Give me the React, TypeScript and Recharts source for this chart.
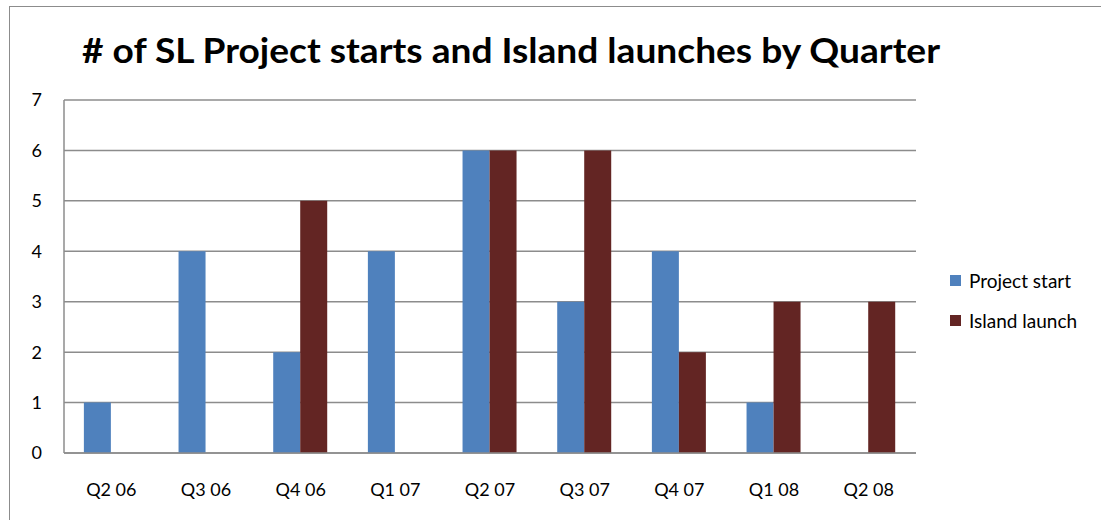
import { Bar, BarChart, CartesianGrid, Legend, XAxis, YAxis } from 'recharts';

const quarters = ['Q2 06', 'Q3 06', 'Q4 06', 'Q1 07', 'Q2 07', 'Q3 07', 'Q4 07', 'Q1 08', 'Q2 08'];
const projectStart = [1, 4, 2, 4, 6, 3, 4, 1, 0];
const islandLaunch = [0, 0, 5, 0, 6, 6, 2, 3, 3];
const yTicks = [0, 1, 2, 3, 4, 5, 6, 7];

const BLUE = '#4F81BD';
const RED = '#632523';
const FONT = 'Lato, "Open Sans", sans-serif';

// legend sits off to the right, like Excel's
const renderLegend = () => (
  <div style={{ fontFamily: FONT, fontSize: '19px', color: '#000', width: 160 }}>
    {[
      { label: 'Project start', color: BLUE },
      { label: 'Island launch', color: RED },
    ].map((item) => (
      <div key={item.label} style={{ display: 'flex', alignItems: 'center', height: '40px' }}>
        <span style={{ width: 11, height: 11, background: item.color, marginRight: 8, display: 'inline-block' }} />
        {item.label}
      </div>
    ))}
  </div>
);

export default function App() {
  const chartData = quarters.map((q, i) => ({
    name: q,
    projectStart: projectStart[i],
    islandLaunch: islandLaunch[i],
  }));

  return (
    <div style={{ position: 'absolute', left: 0, top: 0, width: 1101, height: 520, overflow: 'hidden', background: '#fff' }}>
      {/* outer chart frame, runs off the right/bottom edge */}
      <div style={{ position: 'absolute', left: 9, top: 6, width: 1200, height: 600, border: '1px solid #8c8c8c' }} />
      <svg width={1101} height={80} style={{ position: 'absolute', left: 0, top: 0 }}>
        <text
          x={511}
          y={63}
          textAnchor="middle"
          textLength={858}
          lengthAdjust="spacingAndGlyphs"
          style={{ fontFamily: FONT, fontSize: '35px', fontWeight: 700 }}
          fill="#000"
        >
          # of SL Project starts and Island launches by Quarter
        </text>
      </svg>
      <div style={{ position: 'absolute', left: 0, top: 0 }}>
        <BarChart
          width={1101}
          height={520}
          data={chartData}
          margin={{ top: 100, right: 185, bottom: 37, left: 0 }}
          barCategoryGap="21%"
          barGap={0}
        >
          <CartesianGrid vertical={false} stroke="#8c8c8c" strokeWidth={1.5} />
          <XAxis
            dataKey="name"
            height={30}
            tickLine={false}
            tickSize={0}
            tickMargin={30}
            axisLine={{ stroke: '#8c8c8c', strokeWidth: 1.5 }}
            tick={{ fill: '#000', fontSize: 18, fontFamily: FONT }}
          />
          <YAxis
            width={64}
            domain={[0, 7]}
            ticks={yTicks}
            interval={0}
            tickLine={false}
            tickSize={0}
            tickMargin={22}
            axisLine={{ stroke: '#8c8c8c', strokeWidth: 1.5 }}
            tick={{ fill: '#000', fontSize: 18, fontFamily: FONT }}
          />
          <Legend
            content={renderLegend}
            wrapperStyle={{ position: 'absolute', left: 950, top: 260, width: 0, height: 0, overflow: 'visible' }}
          />
          <Bar dataKey="projectStart" name="Project start" fill={BLUE} isAnimationActive={false} />
          <Bar dataKey="islandLaunch" name="Island launch" fill={RED} isAnimationActive={false} />
        </BarChart>
      </div>
    </div>
  );
}
